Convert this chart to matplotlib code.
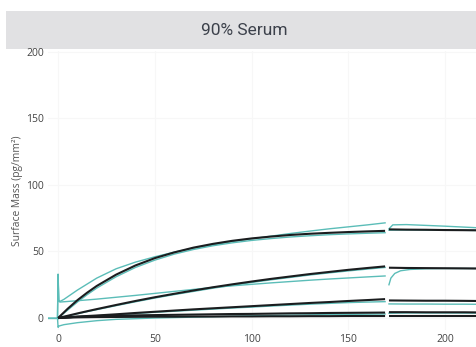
import matplotlib
matplotlib.use("Agg")
import matplotlib.pyplot as plt
from matplotlib.patches import Rectangle

# Time points (s) for association and dissociation phases
t_assoc = [0, 5, 10, 15, 20, 30, 40, 50, 60, 70, 80, 90, 100, 110, 120, 130, 140, 150, 160, 169]
t_dissoc = [171, 180, 190, 200, 210, 217]

# Fitted curves (black)
fit_a = [0, 7.0, 13.4, 19.0, 24.1, 32.6, 39.5, 45.0, 49.3, 52.9, 55.7, 58.0, 59.8, 61.2, 62.4, 63.3, 64.0, 64.6, 65.1, 65.5]
fit_a_off = [66.6, 66.4, 66.3, 66.1, 66.0, 65.9]
fit_b = [0, 1.7, 3.45, 5.1, 6.7, 9.8, 12.8, 15.6, 18.2, 20.7, 23.1, 25.3, 27.4, 29.4, 31.2, 33.0, 34.6, 36.2, 37.6, 38.8]
fit_b_off = [37.8, 37.6, 37.5, 37.4, 37.3, 37.2]
fit_c = [0, 0.5, 1.0, 1.5, 1.9, 2.8, 3.8, 4.7, 5.6, 6.5, 7.3, 8.1, 8.9, 9.7, 10.5, 11.3, 12.0, 12.8, 13.5, 14.2]
fit_c_off = [13.2, 13.1, 13.0, 13.0, 12.9, 12.8]
fit_d1 = [0, 0.6, 1.0, 1.3, 1.5, 1.8, 2.0, 2.2, 2.4, 2.6, 2.8, 3.0, 3.1, 3.3, 3.5, 3.6, 3.8, 3.9, 4.0, 4.1]
fit_d1_off = [4.4, 4.4, 4.3, 4.3, 4.3, 4.2]
fit_d2 = [0, 0.3, 0.5, 0.6, 0.7, 0.8, 0.9, 1.0, 1.0, 1.1, 1.1, 1.2, 1.2, 1.3, 1.3, 1.4, 1.4, 1.5, 1.5, 1.5]
fit_d2_off = [1.6, 1.6, 1.6, 1.6, 1.6, 1.6]

# Measured sensorgrams (cyan)
t_meas_a1 = [-5, -0.3, 0, 0.4, 1, 3, 5, 10, 20, 30, 40, 50, 60, 70, 80, 90, 100, 110, 120, 130, 140, 150, 160, 169]
meas_a1 = [0, 0, 33, 13.5, 12.5, 14, 16, 21, 30, 37, 42, 46, 49.5, 52.5, 55, 57.5, 59.5, 61.5, 63.5, 65.3, 67, 68.5, 70, 71.5]
t_meas_a1_off = [171, 173, 180, 190, 200, 210, 217]
meas_a1_off = [67, 70, 70.2, 69.6, 69, 68.3, 67.8]

meas_a2 = [0, 6, 12, 17.5, 22.5, 31, 38, 43.5, 48, 51.5, 54.3, 56.5, 58.3, 59.7, 60.9, 61.8, 62.6, 63.2, 63.7, 64.1]
meas_a2_off = [66.0, 66.2, 66.1, 66.0, 65.9, 65.8]

t_meas_b1 = [-0.3, 0, 0.4, 1, 10, 20, 30, 40, 50, 60, 70, 80, 90, 100, 110, 120, 130, 140, 150, 160, 169]
meas_b1 = [0, 30, 12.5, 12, 13, 14.2, 15.6, 17, 18.5, 20, 21.5, 23, 24.2, 25.3, 26.4, 27.4, 28.4, 29.3, 30.1, 30.9, 31.6]
t_meas_b1_off = [171, 172, 174, 177, 182, 190, 200, 217]
meas_b1_off = [25, 30, 33.5, 35.5, 36.5, 37, 37.2, 37.2]

meas_b2 = [0, 1.5, 3.2, 4.8, 6.3, 9.3, 12.2, 15.0, 17.6, 20.0, 22.4, 24.6, 26.7, 28.7, 30.5, 32.3, 33.9, 35.4, 36.8, 38.0]

meas_c = [0, 0.3, 0.8, 1.2, 1.6, 2.5, 3.4, 4.3, 5.1, 5.9, 6.7, 7.5, 8.2, 9.0, 9.7, 10.4, 11.0, 11.6, 12.0, 12.3]
meas_c_off = [10.6, 10.5, 10.5, 10.4, 10.4, 10.3]

t_meas_d = [-0.3, 0, 0.5, 3, 10, 20, 30, 50, 80, 110, 140, 169]
meas_d = [0, -7, -6, -5, -3.5, -2, -1, 0, 1, 2, 2.6, 3.0]
t_meas_d_off = [171, 180, 200, 217]
meas_d_off = [3.6, 3.8, 3.8, 3.7]

y_ticks = [0, 50, 100, 150, 200]
x_ticks = [0, 50, 100, 150, 200]

BLACK = "#1b1d1f"
CYAN = "#5bbdb8"

fig = plt.figure(figsize=(4.77, 3.47), dpi=100)
fig.patch.set_facecolor("white")

# Header band
fig.add_artist(Rectangle((6 / 477, 1 - 49 / 347), 471 / 477, 38 / 347,
                         transform=fig.transFigure, facecolor="#e1e1e3",
                         edgecolor="none", zorder=0))
fig.text(0.513, 1 - 30.5 / 347, "90% Serum", ha="center", va="center",
         fontsize=12.5, color="#3c414b", family="Roboto")

ax = fig.add_axes([48 / 477, 1 - 330 / 347, 429 / 477, (330 - 50.5) / 347])
ax.set_xlim(-5.2, 216.5)
ax.set_ylim(-9, 201)

for s in ax.spines.values():
    s.set_visible(False)
ax.set_xticks(x_ticks)
ax.set_yticks(y_ticks)
ax.tick_params(length=0, labelsize=7.5, labelcolor="#444444", pad=3)
for lab in ax.get_xticklabels() + ax.get_yticklabels():
    lab.set_family("Open Sans")
ax.grid(True, color="#f7f7f7", lw=0.8)
ax.set_axisbelow(True)

ax.set_ylabel("Surface Mass (pg/mm²)", fontsize=7.4, color="#555555",
              family="Open Sans", labelpad=2)

# Pre-injection baseline
ax.plot([-5, 0], [0, 0], color=CYAN, lw=1.0, zorder=2)

# Cyan measured traces
cyan_kw = dict(color=CYAN, lw=1.0, zorder=2)
ax.plot(t_meas_a1, meas_a1, **cyan_kw)
ax.plot(t_meas_a1_off, meas_a1_off, **cyan_kw)
ax.plot(t_assoc, meas_a2, **cyan_kw)
ax.plot(t_dissoc, meas_a2_off, **cyan_kw)
ax.plot(t_meas_b1, meas_b1, **cyan_kw)
ax.plot(t_meas_b1_off, meas_b1_off, **cyan_kw)
ax.plot(t_assoc, meas_b2, **cyan_kw)
ax.plot(t_assoc, meas_c, **cyan_kw)
ax.plot(t_dissoc, meas_c_off, **cyan_kw)
ax.plot(t_meas_d, meas_d, **cyan_kw)
ax.plot(t_meas_d_off, meas_d_off, **cyan_kw)

# Black fitted curves
black_kw = dict(color=BLACK, lw=1.5, zorder=3, solid_capstyle="butt")
for assoc, dissoc in [(fit_a, fit_a_off), (fit_b, fit_b_off), (fit_c, fit_c_off),
                      (fit_d1, fit_d1_off), (fit_d2, fit_d2_off)]:
    ax.plot(t_assoc, assoc, **black_kw)
    ax.plot(t_dissoc, dissoc, **black_kw)

fig.savefig("out.png", dpi=100)
